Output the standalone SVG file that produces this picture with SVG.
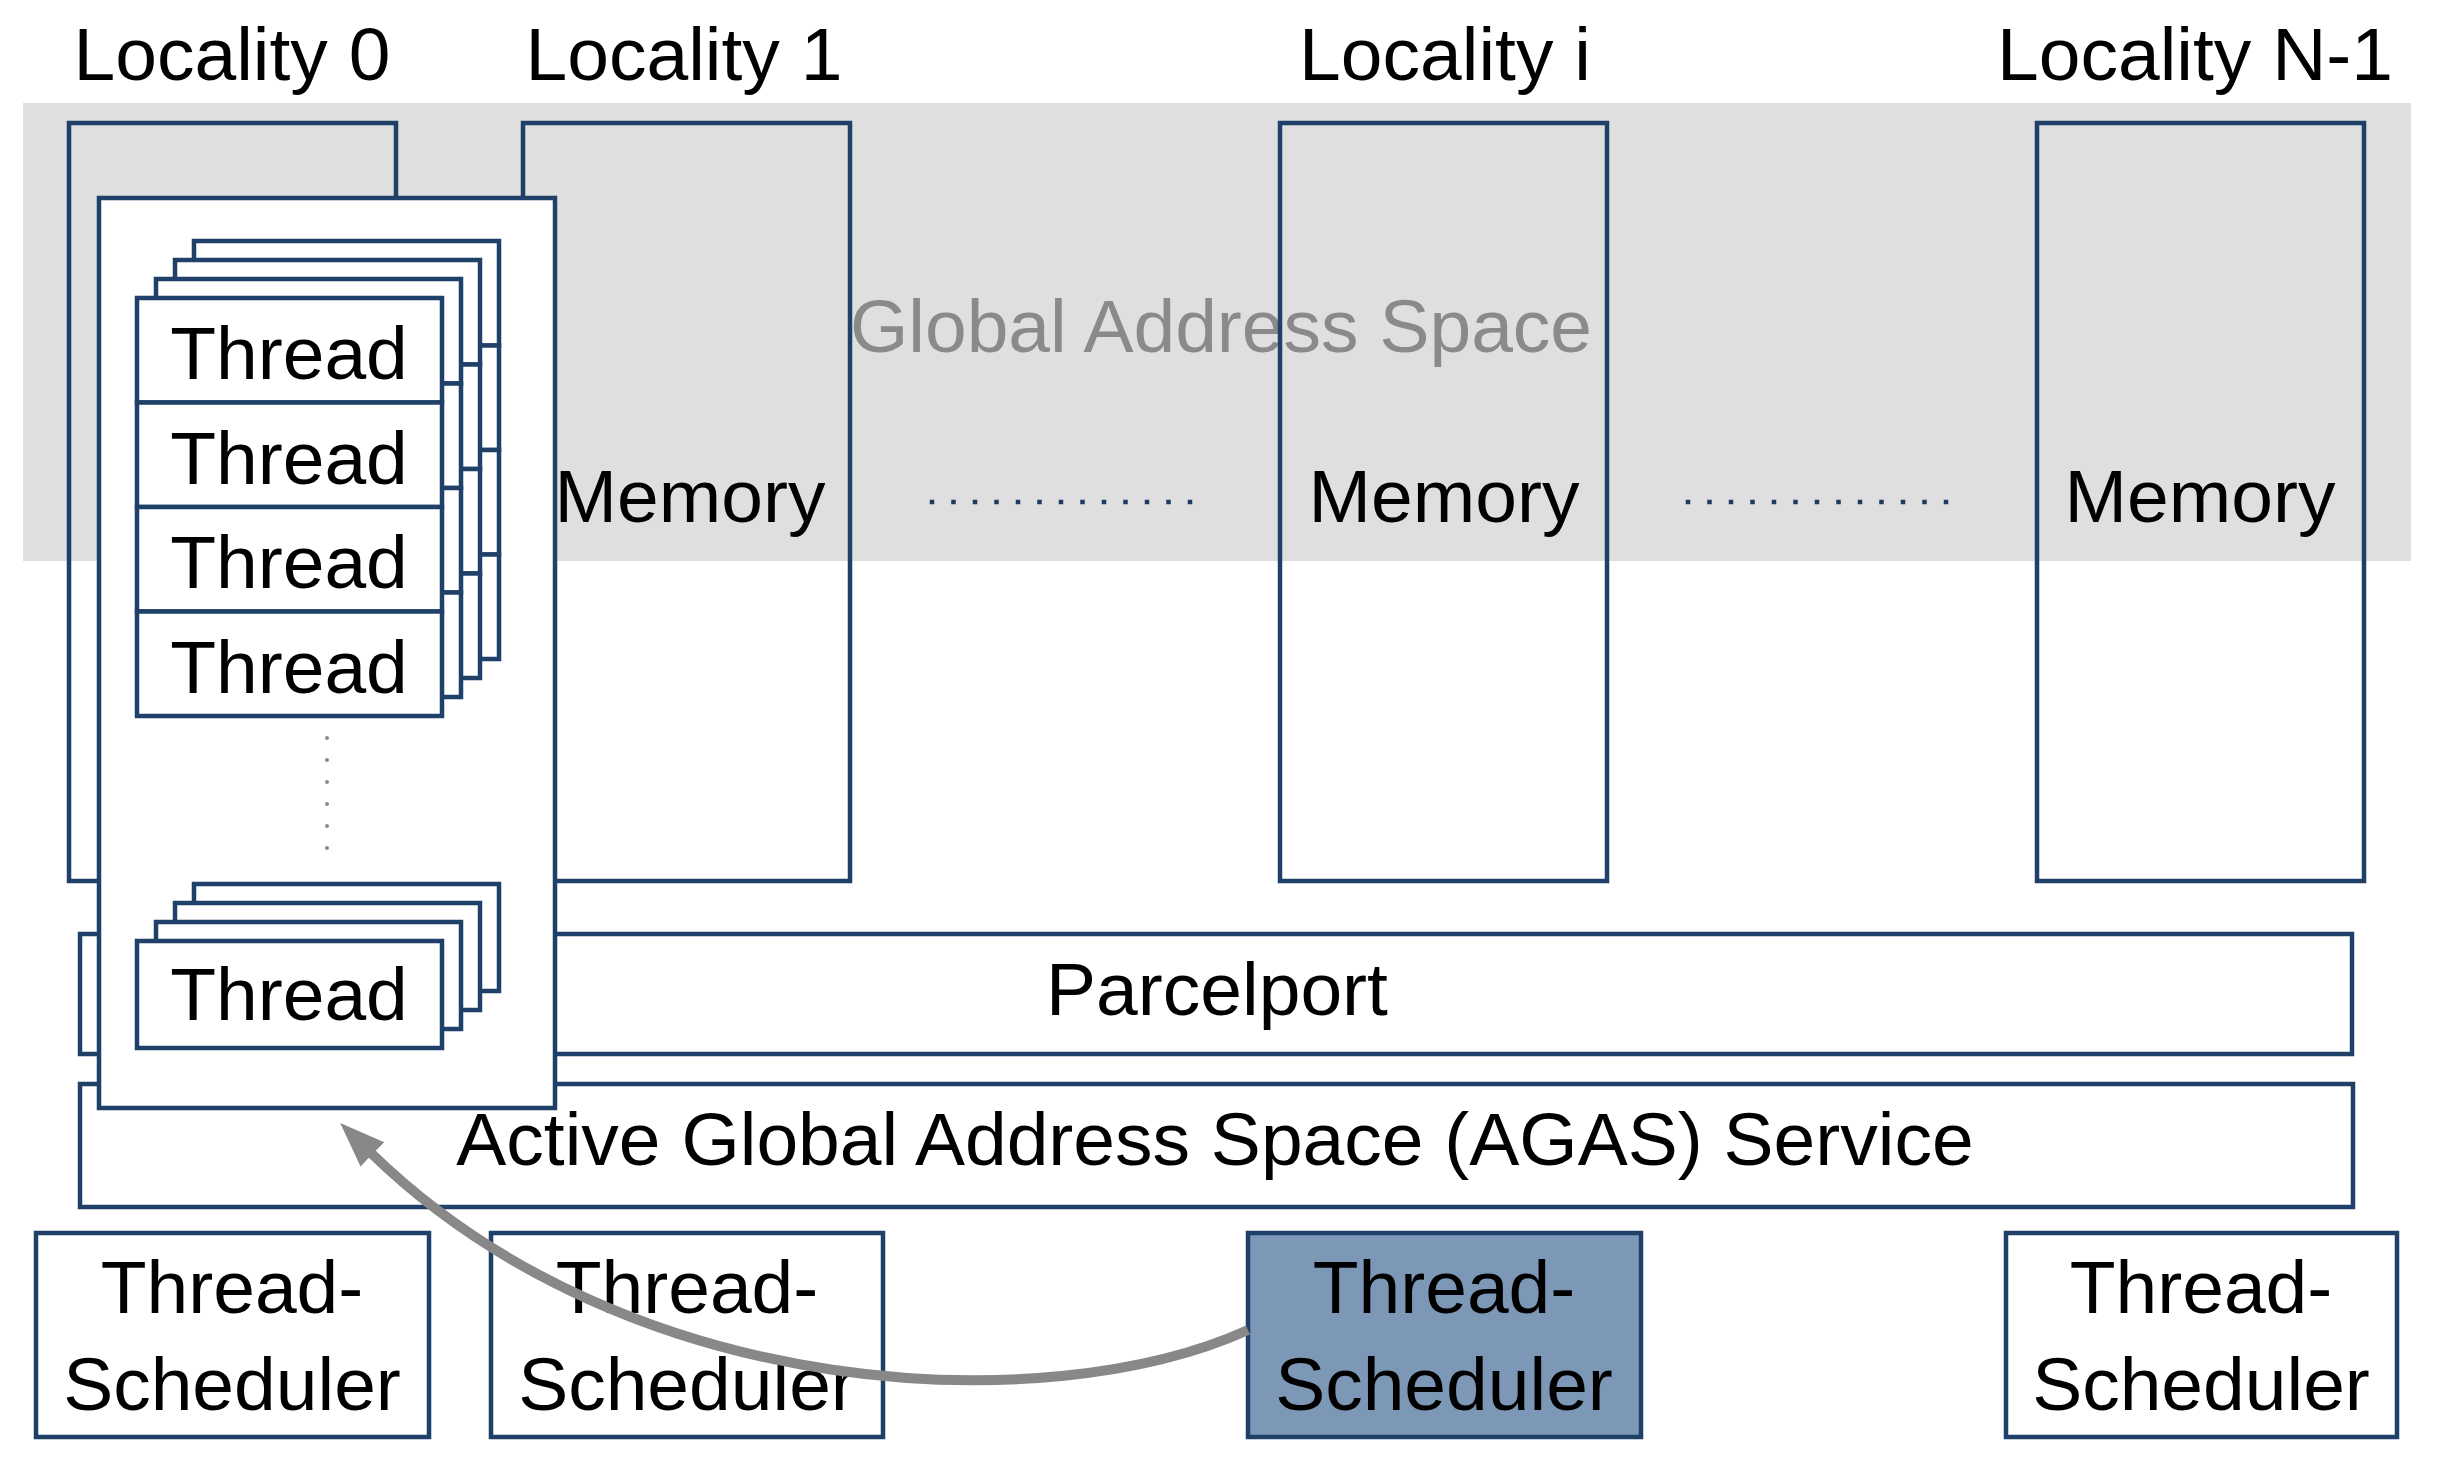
<svg xmlns="http://www.w3.org/2000/svg" width="2456" height="1459" viewBox="0 0 2456 1459">
<style>
.box{fill:none;stroke:#1f4068;stroke-width:4.5}
.wbox{fill:#ffffff;stroke:#1f4068;stroke-width:4.5}
.hbox{fill:#7d98b6;stroke:#1f4068;stroke-width:4.5}
.t{font-family:"Liberation Sans",Arial,sans-serif;font-size:75px;fill:#000000;text-anchor:middle}
.g{font-family:"Liberation Sans",Arial,sans-serif;font-size:75px;fill:#8a8a8a;text-anchor:middle}
.dots{fill:none;stroke:#1f3a5f;stroke-width:4.5;stroke-linecap:square;stroke-dasharray:0 21.5}
.vdots{fill:none;stroke:#8a8a8a;stroke-width:4;stroke-linecap:round;stroke-dasharray:0 22}
</style>
<defs>
<marker id="ah" markerUnits="userSpaceOnUse" markerWidth="60" markerHeight="50" refX="2" refY="20" orient="auto">
<path d="M0,3 L45,20 L0,37 Z" fill="#888888"/>
</marker>
</defs>
<rect width="2456" height="1459" fill="#ffffff"/>
<rect id="global-address-space" x="23" y="103" width="2388" height="458" fill="#dfdfdf"/>
<text class="g" x="1221" y="352">Global Address Space</text>

<g id="locality-0">
<rect class="box" x="69" y="123" width="327" height="758"/>
<text class="t" x="232" y="80">Locality 0</text>
</g>
<g id="locality-1">
<rect class="box" x="523" y="123" width="327" height="758"/>
<text class="t" x="684" y="80">Locality 1</text>
<text class="t" x="690" y="522">Memory</text>
</g>
<g id="locality-i">
<rect class="box" x="1280" y="123" width="327" height="758"/>
<text class="t" x="1445" y="80">Locality i</text>
<text class="t" x="1444" y="522">Memory</text>
</g>
<g id="locality-n-1">
<rect class="box" x="2037" y="123" width="327" height="758"/>
<text class="t" x="2195" y="80">Locality N-1</text>
<text class="t" x="2200" y="522">Memory</text>
</g>
<g id="ellipsis">
<line class="dots" x1="932" y1="502" x2="1191" y2="502"/>
<line class="dots" x1="1688" y1="502" x2="1947" y2="502"/>
</g>

<g id="parcelport">
<rect class="wbox" x="80" y="934" width="2272" height="120"/>
<text class="t" x="1217" y="1015">Parcelport</text>
</g>
<g id="agas">
<rect class="wbox" x="80" y="1084" width="2273" height="123"/>
<text class="t" x="1215" y="1165">Active Global Address Space (AGAS) Service</text>
</g>

<g id="thread-container">
<rect class="wbox" x="99" y="198" width="456" height="910"/>
<g id="thread-stack-top">
<rect class="wbox" x="194" y="241" width="305" height="104.5"/>
<rect class="wbox" x="194" y="345.5" width="305" height="104.5"/>
<rect class="wbox" x="194" y="450" width="305" height="104.5"/>
<rect class="wbox" x="194" y="554.5" width="305" height="104.5"/>
<rect class="wbox" x="175" y="260" width="305" height="104.5"/>
<rect class="wbox" x="175" y="364.5" width="305" height="104.5"/>
<rect class="wbox" x="175" y="469" width="305" height="104.5"/>
<rect class="wbox" x="175" y="573.5" width="305" height="104.5"/>
<rect class="wbox" x="156" y="279" width="305" height="104.5"/>
<rect class="wbox" x="156" y="383.5" width="305" height="104.5"/>
<rect class="wbox" x="156" y="488" width="305" height="104.5"/>
<rect class="wbox" x="156" y="592.5" width="305" height="104.5"/>
<rect class="wbox" x="137" y="298" width="305" height="104.5"/>
<rect class="wbox" x="137" y="402.5" width="305" height="104.5"/>
<rect class="wbox" x="137" y="507" width="305" height="104.5"/>
<rect class="wbox" x="137" y="611.5" width="305" height="104.5"/>
<text class="t" x="289" y="379">Thread</text>
<text class="t" x="289" y="483.5">Thread</text>
<text class="t" x="289" y="588">Thread</text>
<text class="t" x="289" y="692.5">Thread</text>
</g>
<line class="vdots" x1="327" y1="738" x2="327" y2="850"/>
<g id="thread-stack-bottom">
<rect class="wbox" x="194" y="884" width="305" height="107"/>
<rect class="wbox" x="175" y="903" width="305" height="107"/>
<rect class="wbox" x="156" y="922" width="305" height="107"/>
<rect class="wbox" x="137" y="941" width="305" height="107"/>
<text class="t" x="289" y="1020">Thread</text>
</g>
</g>

<g id="scheduler-0">
<rect class="wbox" x="36" y="1233" width="393" height="204"/>
<text class="t" x="232" y="1313">Thread-</text>
<text class="t" x="232" y="1410">Scheduler</text>
</g>
<g id="scheduler-1">
<rect class="wbox" x="491" y="1233" width="392" height="204"/>
<text class="t" x="687" y="1313">Thread-</text>
<text class="t" x="687" y="1410">Scheduler</text>
</g>
<g id="scheduler-i">
<rect class="hbox" x="1248" y="1233" width="393" height="204"/>
<text class="t" x="1444" y="1313">Thread-</text>
<text class="t" x="1444" y="1410">Scheduler</text>
</g>
<g id="scheduler-n-1">
<rect class="wbox" x="2006" y="1233" width="391" height="204"/>
<text class="t" x="2201" y="1313">Thread-</text>
<text class="t" x="2201" y="1410">Scheduler</text>
</g>

<g id="connectors">
<path d="M1248,1330 C1050,1420 630,1405 371,1153" fill="none" stroke="#888888" stroke-width="10" marker-end="url(#ah)"/>
</g>
</svg>
